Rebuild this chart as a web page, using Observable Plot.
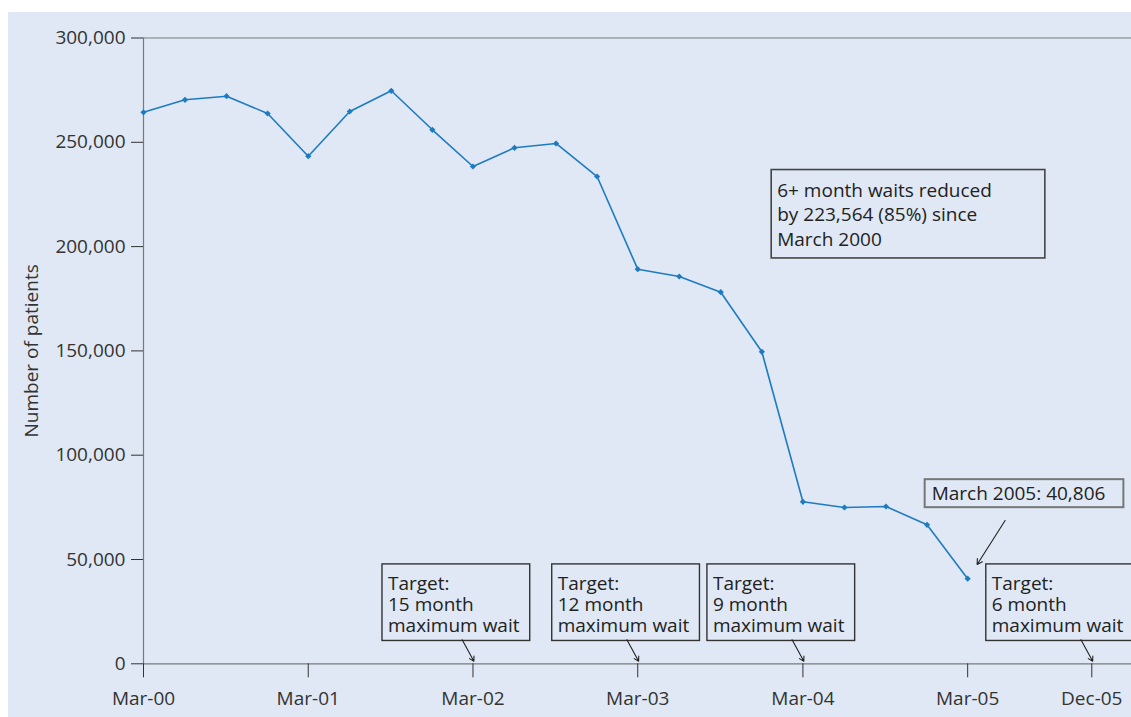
<!DOCTYPE html>
<html><head><meta charset="utf-8">
<script src="https://cdn.jsdelivr.net/npm/d3@7"></script>
<script src="https://cdn.jsdelivr.net/npm/@observablehq/plot@0.6"></script>
<style>
html,body{margin:0;padding:0;background:#fff;}
#chart{position:absolute;left:8px;top:12px;width:1123px;height:705px;background:#dfe8f4;}
</style></head><body><div id="chart"></div>
<script>
// ---- data ----
const months = ["2000-03-01","2000-06-01","2000-09-01","2000-12-01","2001-03-01","2001-06-01","2001-09-01","2001-12-01",
  "2002-03-01","2002-06-01","2002-09-01","2002-12-01","2003-03-01","2003-06-01","2003-09-01","2003-12-01",
  "2004-03-01","2004-06-01","2004-09-01","2004-12-01","2005-03-01"];
const patients = [264370, 270380, 272110, 263810, 243340, 264770, 274700, 256000,
  238400, 247370, 249430, 233600, 189170, 185670, 178140, 149570,
  77660, 74930, 75410, 66640, 40806];
const tickDates = ["2000-03-01","2001-03-01","2002-03-01","2003-03-01","2004-03-01","2005-03-01","2005-12-01"];
const tickLabels = ["Mar-00","Mar-01","Mar-02","Mar-03","Mar-04","Mar-05","Dec-05"];
const yTicks = [0, 50000, 100000, 150000, 200000, 250000, 300000];
const targetDates = ["2002-03-01","2003-03-01","2004-03-01","2005-12-01"];
const targetTexts = ["Target:\n15 month\nmaximum wait","Target:\n12 month\nmaximum wait","Target:\n9 month\nmaximum wait","Target:\n6 month\nmaximum wait"];
const summaryText = "6+ month waits reduced\nby 223,564 (85%) since\nMarch 2000";
const latestText = "March 2005: 40,806";
const yLabel = "Number of patients";

// ---- layout ----
const FONT = "'Open Sans', 'Noto Sans', sans-serif";
const FS = 19;
const LINE = "#1f7bc1";
const targetDx = [-85, -80, -90, -100];
const xEnd = new Date("2006-02-27");

const data = months.map((m, i) => ({date: new Date(m), value: patients[i]}));
const ticks = tickDates.map(d => new Date(d));
const labelOf = new Map(tickDates.map((d, i) => [+new Date(d), tickLabels[i]]));
const targets = targetDates.map(d => new Date(d));
const last = data[data.length - 1];

const noteMarks = targets.map((t, i) => Plot.text([targetTexts[i]], {
  x: () => t, frameAnchor: "bottom", text: d => d, textAnchor: "start", lineAnchor: "top",
  dx: targetDx[i], dy: -89, lineHeight: 1.12, fontSize: FS, fill: "#222"
}));

const targetArrows = Plot.arrow(targets, {
  x1: d => d3.utcDay.offset(d, -24), y1: 11500, x2: d => d3.utcDay.offset(d, 2), y2: 1200,
  stroke: "#222", strokeWidth: 1.1, headLength: 7
});
const latestArrow = Plot.arrow([last], {
  x1: d => d3.utcDay.offset(d.date, 83), y1: 68700, x2: d => d3.utcDay.offset(d.date, 21), y2: 47600,
  stroke: "#222", strokeWidth: 1.1, headLength: 8
});

const plot = Plot.plot({
  width: 1123, height: 705,
  marginLeft: 135, marginRight: 0, marginTop: 25.5, marginBottom: 53.7,
  style: {fontFamily: FONT, fontSize: FS + "px", color: "#333", background: "transparent", overflow: "visible"},
  x: {type: "utc", domain: [data[0].date, xEnd]},
  y: {domain: [0, 300000]},
  marks: [
    Plot.ruleY([0, 300000], {stroke: "#7a7a7a", strokeWidth: 1.2}),
    Plot.ruleX([data[0].date], {y1: 0, y2: 300000, stroke: "#7a7a7a", strokeWidth: 1.2}),
    Plot.axisY({ticks: yTicks, tickFormat: d3.format(","), tickSize: 12, tickPadding: 6, fontSize: FS, stroke: "#333", fill: "#333", label: null}),
    Plot.axisX({ticks: ticks, tickFormat: d => labelOf.get(+d), tickSize: 14, tickPadding: 14, fontSize: FS, stroke: "#333", fill: "#333", label: null}),
    Plot.text([yLabel], {frameAnchor: "left", text: d => d, rotate: -90, textAnchor: "middle", dx: -112, fontSize: 19, fill: "#333"}),
    Plot.line(data, {x: "date", y: "value", stroke: LINE, strokeWidth: 1.6}),
    Plot.dot(data, {x: "date", y: "value", symbol: "diamond2", r: 2.8, fill: LINE, stroke: "none"}),
    ...noteMarks,
    Plot.text([summaryText], {frameAnchor: "top-left", text: d => d, textAnchor: "start", lineAnchor: "top",
      dx: 776.7 - 143, dy: 178.5 - 37.5, lineHeight: 1.3, fontSize: FS, fill: "#222"}),
    Plot.text([last], {x: "date", y: "value", text: () => latestText, textAnchor: "start", lineAnchor: "top",
      dx: -36, dy: -92, fontSize: FS, fill: "#222"}),
    targetArrows,
    latestArrow
  ]
});
document.getElementById("chart").append(plot);

// draw boxes around annotation texts
const kinds = [["Target:", "target"], ["6+ month", "summary"], ["March 2005", "latest"]];
const pads = {target: [6, 10, 2, 6], summary: [7, 53, 6, 6], latest: [1, 18, 1, 7]};
const strokes = {target: ["#333", 1.4], summary: ["#444", 1.6], latest: ["#777", 2]};
plot.querySelectorAll("text").forEach(t => {
  const found = kinds.find(([p]) => t.textContent.startsWith(p));
  if (!found) return;
  const kind = found[1];
  const [pt, pr, pb, pl] = pads[kind];
  const b = t.getBBox();
  const r = document.createElementNS("http://www.w3.org/2000/svg", "rect");
  r.setAttribute("x", b.x - pl); r.setAttribute("y", b.y - pt);
  r.setAttribute("width", b.width + pl + pr); r.setAttribute("height", b.height + pt + pb);
  r.setAttribute("fill", "none"); r.setAttribute("stroke", strokes[kind][0]); r.setAttribute("stroke-width", strokes[kind][1]);
  if (t.getAttribute("transform")) r.setAttribute("transform", t.getAttribute("transform"));
  t.parentNode.insertBefore(r, t);
});
</script></body></html>
